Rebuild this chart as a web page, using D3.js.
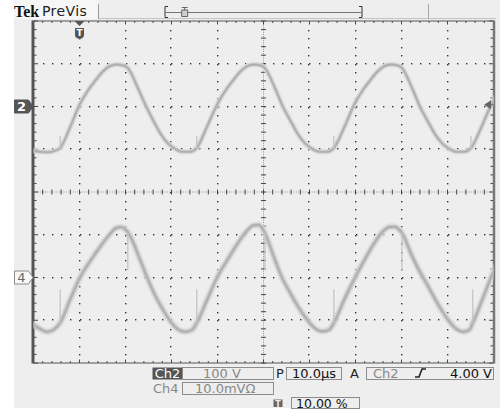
<!DOCTYPE html>
<html>
<head>
<meta charset="utf-8">
<script src="https://cdn.jsdelivr.net/npm/d3@7"></script>
<style>
  body { margin: 0; background: #fff; }
  svg { display: block; font-family: "DejaVu Sans", sans-serif; }
</style>
</head>
<body>
<svg id="scope" width="500" height="409"></svg>
<script>
// Ch2 trace: [time µs, volts]
const ch2Trace = [
  [-9.9, -104], [-8.5, -106], [-7.0, -107], [-5.5, -104], [-4.2, -97], [-2.1, -50],
  [0, 4], [2.0, 40], [3.4, 60], [5.1, 82], [6.5, 94], [8.0, 98], [9.5, 96], [10.5, 90],
  [12.7, 43], [14.5, 0], [16.4, -40], [17.7, -65], [19.2, -86], [20.8, -99], [22.5, -106],
  [24.0, -106], [25.5, -97], [27.6, -50],
  [29.9, 4], [31.9, 40], [33.3, 60], [35.0, 82], [36.4, 94], [37.9, 98], [39.4, 96], [40.3, 90],
  [42.5, 43], [44.2, 0], [46.2, -40], [47.5, -65], [49.0, -86], [50.6, -99], [52.3, -106],
  [53.8, -106], [55.3, -97], [57.5, -50],
  [59.7, 4], [61.7, 40], [63.1, 60], [64.8, 82], [66.2, 94], [67.7, 98], [69.2, 96], [70.1, 90],
  [72.3, 43], [74.0, 0], [76.0, -40], [77.3, -65], [78.8, -86], [80.4, -99], [82.1, -106],
  [83.6, -106], [85.1, -97], [87.3, -50], [89.5, 4], [91.5, 40]
];
// small switching spikes on Ch2: [time, from V, to V]
const ch2Spikes = [[-4.2, -97, -70], [25.5, -97, -70], [55.3, -97, -70], [85.1, -97, -70]];

// Ch4 trace: [time µs, value in channel units (10.0 per div)]
const ch4Trace = [
  [-9.9, -11.1], [-8.6, -12.0], [-7.1, -12.7], [-5.6, -12.2], [-4.2, -10.6], [-2.1, -5.3],
  [0.1, 0], [2.3, 3.8], [4.5, 7.2], [6.5, 10.0], [8.0, 11.6], [9.0, 11.8], [10.0, 11.2],
  [10.5, 10.6], [13.2, 4.1], [14.7, 0], [16.4, -4.1], [18.2, -7.6], [20.0, -10.6], [21.5, -12.2],
  [23.0, -12.7], [24.5, -12.2], [25.5, -10.6], [27.7, -5.3],
  [29.9, 0], [32.2, 4.2], [34.4, 8.0], [36.3, 10.8], [37.8, 12.2], [38.9, 12.3], [39.8, 11.4],
  [40.3, 10.4], [42.5, 4.1], [44.0, 0], [45.8, -3.6], [47.5, -6.8], [49.3, -9.6], [50.9, -11.6],
  [52.7, -12.6], [54.3, -12.2], [55.3, -10.6], [57.5, -5.3],
  [59.9, 0], [62.1, 4.4], [64.0, 7.9], [65.8, 10.6], [67.3, 11.8], [68.4, 11.9], [69.5, 11.2],
  [70.1, 10.4], [72.3, 5.0], [74.0, 1.3], [75.5, -1.5], [78.4, -7.1], [80.4, -10.3], [82.0, -12.1],
  [83.4, -12.7], [84.8, -12.2], [85.5, -10.6], [87.7, -4.8], [89.9, 1.1], [92.0, 5.0]
];
const ch4Spikes = [
  [-4.2, -10.6, -2.9], [10.5, 10.6, 1.8], [25.5, -10.6, -2.9], [40.3, 10.4, 1.8],
  [55.3, -10.6, -2.9], [70.1, 10.4, 1.8], [85.5, -10.6, -2.9]
];

// readout texts
const channelNames = ["Ch2", "Ch4"];
const channelScales = ["100 V", "10.0mVΩ"];
const timeScale = "10.0µs";
const triggerSource = "Ch2";
const triggerLevel = 4.00;
const triggerPercent = "10.00 %";

const svg = d3.select("#scope");

// screen geometry
const L = 33.5, R = 493.5, T = 21, B = 363;
const gx = d3.scaleLinear().domain([0, 10]).range([L, R]);    // divisions
const gy = d3.scaleLinear().domain([-4, 4]).range([B, T]);
const x = d3.scaleLinear().domain([-10, 90]).range([L, R]);   // µs, trigger at 10 %
const y2 = d3.scaleLinear().domain([-600, 200]).range([B, T]); // 100 V/div, offset +2 div
const y4 = d3.scaleLinear().domain([-20, 60]).range([B, T]);   // 10.0/div, offset -2 div

// panel
svg.append("rect").attr("x", 14).attr("y", 0).attr("width", 486).attr("height", 408).attr("fill", "#eeeeee");
svg.append("rect").attr("x", 14).attr("y", 0).attr("width", 84).attr("height", 19).attr("fill", "#f6f6f6");
svg.append("line").attr("x1", 98).attr("x2", 496).attr("y1", 18.5).attr("y2", 18.5).attr("stroke", "#c4c4c4");
svg.append("line").attr("x1", 98.5).attr("x2", 98.5).attr("y1", 4).attr("y2", 19).attr("stroke", "#9a9a9a");
svg.append("line").attr("x1", 428.5).attr("x2", 428.5).attr("y1", 4).attr("y2", 19).attr("stroke", "#a8a8a8");

svg.append("text").attr("x", 14).attr("y", 17).attr("font-family", "Liberation Serif")
  .attr("font-weight", "bold").attr("font-size", 16).attr("fill", "#111").text("Tek");
svg.append("text").attr("x", 42).attr("y", 16).attr("font-size", 14).attr("letter-spacing", 0.4)
  .attr("fill", "#222").text("PreVis");

// record view bracket
const rec = d3.scaleLinear().domain([-10, 90]).range([165, 362]);
const bar = svg.append("g").attr("stroke", "#777").attr("fill", "none");
bar.append("path").attr("d", `M${rec(-10) + 3},6.5H${rec(-10)}V17.5H${rec(-10) + 3}`).attr("stroke", "#333");
bar.append("path").attr("d", `M${rec(90) - 3},6.5H${rec(90)}V17.5H${rec(90) - 3}`).attr("stroke", "#333");
bar.append("line").attr("x1", rec(-10)).attr("x2", rec(90)).attr("y1", 12.5).attr("y2", 12.5);
bar.append("path").attr("d", `M${rec(0) - 3},7.5H${rec(0) + 3}M${rec(0)},7.5V10M${rec(0) - 3},10H${rec(0) + 3}V16.5H${rec(0) - 3}Z`)
  .attr("stroke", "#666").attr("fill", "#cfcfcf");

// graticule
const grid = svg.append("g");
const minorX = d3.range(0, 50.5).map(i => i / 5);
const minorY = d3.range(0, 40.5).map(i => -4 + i / 5);
d3.range(1, 10).filter(i => i !== 5).forEach(i => {
  grid.selectAll(null).data(minorY.slice(1, -1)).enter().append("rect")
    .attr("x", Math.round(gx(i)) - 1).attr("y", d => Math.round(gy(d)))
    .attr("width", 1.4).attr("height", 1.4).attr("fill", "#333");
});
d3.range(-3, 4).filter(k => k !== 0).forEach(k => {
  grid.selectAll(null).data(minorX.slice(1, -1)).enter().append("rect")
    .attr("x", d => Math.round(gx(d))).attr("y", Math.round(gy(k)) - 1)
    .attr("width", 1.4).attr("height", 1.4).attr("fill", "#333");
});
// centre lines: fine dots plus ticks
const fineX = d3.range(0, 200.5).map(i => i / 20);
const fineY = d3.range(0, 160.5).map(i => -4 + i / 20);
grid.selectAll(null).data(fineY).enter().append("rect")
  .attr("x", gx(5) - 0.5).attr("y", d => gy(d)).attr("width", 1).attr("height", 1).attr("fill", "#999");
grid.selectAll(null).data(fineX).enter().append("rect")
  .attr("x", d => gx(d)).attr("y", gy(0) - 0.5).attr("width", 1).attr("height", 1).attr("fill", "#999");
grid.selectAll(null).data(minorY).enter().append("line")
  .attr("x1", gx(5) - 2.5).attr("x2", gx(5) + 2.5).attr("y1", d => gy(d)).attr("y2", d => gy(d))
  .attr("stroke", "#444");
grid.selectAll(null).data(minorX).enter().append("line")
  .attr("y1", gy(0) - 2.5).attr("y2", gy(0) + 2.5).attr("x1", d => gx(d)).attr("x2", d => gx(d))
  .attr("stroke", "#444");
// border ticks
grid.selectAll(null).data(minorX).enter().append("line")
  .attr("x1", d => gx(d)).attr("x2", d => gx(d)).attr("y1", T).attr("y2", (d, i) => T + (i % 5 ? 2 : 3.5))
  .attr("stroke", "#444");
grid.selectAll(null).data(minorX).enter().append("line")
  .attr("x1", d => gx(d)).attr("x2", d => gx(d)).attr("y1", B).attr("y2", (d, i) => B - (i % 5 ? 2 : 3.5))
  .attr("stroke", "#444");
grid.selectAll(null).data(minorY).enter().append("line")
  .attr("y1", d => gy(d)).attr("y2", d => gy(d)).attr("x1", L).attr("x2", (d, i) => L + (i % 5 ? 3 : 4.5))
  .attr("stroke", "#444");
grid.selectAll(null).data(minorY).enter().append("line")
  .attr("y1", d => gy(d)).attr("y2", d => gy(d)).attr("x1", R).attr("x2", (d, i) => R - (i % 5 ? 3 : 4.5))
  .attr("stroke", "#444");
grid.append("line").attr("x1", L).attr("x2", R).attr("y1", T).attr("y2", T).attr("stroke", "#555");
grid.append("line").attr("x1", L).attr("x2", R).attr("y1", B).attr("y2", B).attr("stroke", "#555");
grid.append("line").attr("x1", L - 0.5).attr("x2", L - 0.5).attr("y1", T - 0.5).attr("y2", B + 0.5).attr("stroke", "#555").attr("stroke-width", 3);
grid.append("line").attr("x1", R + 0.5).attr("x2", R + 0.5).attr("y1", T - 0.5).attr("y2", B + 0.5).attr("stroke", "#777").attr("stroke-width", 2.5);

// traces
svg.append("clipPath").attr("id", "screen").append("rect")
  .attr("x", L).attr("y", T).attr("width", R - L).attr("height", B - T);
const traces = svg.append("g").attr("clip-path", "url(#screen)").attr("fill", "none")
  .attr("stroke-linejoin", "round").attr("stroke-linecap", "round");

function drawTrace(data, spikes, ys, fuzz) {
  const line = d3.line().x(d => x(d[0])).y(d => ys(d[1])).curve(d3.curveMonotoneX);
  const g = traces.append("g");
  g.append("path").attr("d", line(data)).attr("stroke", "#dadada").attr("stroke-width", fuzz).attr("opacity", 0.75);
  g.append("path").attr("d", line(data)).attr("stroke", "#c2c2c2").attr("stroke-width", fuzz * 0.55);
  g.append("path").attr("d", line(data)).attr("stroke", "#afafaf").attr("stroke-width", 1.6);
  g.selectAll(null).data(spikes).enter().append("line")
    .attr("x1", d => x(d[0])).attr("x2", d => x(d[0]))
    .attr("y1", d => ys(d[1])).attr("y2", d => ys(d[2]))
    .attr("stroke", "#c4c4c4").attr("stroke-width", 1.3);
}
drawTrace(ch2Trace, ch2Spikes, y2, 5.5);
drawTrace(ch4Trace, ch4Spikes, y4, 7);

// channel ground markers
function groundMarker(yPos, label, dark) {
  const g = svg.append("g");
  g.append("path")
    .attr("d", `M14.5,${yPos - 6.5}H28.5L33,${yPos}L28.5,${yPos + 6.5}H14.5Z`)
    .attr("fill", dark ? "#555" : "#f8f8f8").attr("stroke", dark ? "#555" : "#8a8a8a");
  g.append("text").attr("x", 21.5).attr("y", yPos + 4.5).attr("text-anchor", "middle")
    .attr("font-size", 13).attr("font-weight", dark ? "bold" : "normal")
    .attr("fill", dark ? "#fff" : "#666").text(label);
}
groundMarker(y2(0), "2", true);
groundMarker(y4(0), "4", false);

// trigger position marker
const tx = x(0);
svg.append("path").attr("d", `M${tx - 5},${T}H${tx + 5}L${tx},${T + 5}Z`).attr("fill", "#555");
svg.append("path").attr("d", `M${tx - 4.5},28H${tx + 4.5}V35Q${tx + 4.5},38 ${tx},39Q${tx - 4.5},38 ${tx - 4.5},35Z`).attr("fill", "#555");
svg.append("text").attr("x", tx).attr("y", 36).attr("text-anchor", "middle").attr("font-size", 9)
  .attr("font-weight", "bold").attr("fill", "#fff").text("T");

// trigger level marker
const ty = y2(triggerLevel);
svg.append("path").attr("d", `M484,${ty}L491,${ty - 4.5}V${ty + 4.5}Z`).attr("fill", "#666");
svg.append("line").attr("x1", 488).attr("x2", R).attr("y1", ty).attr("y2", ty).attr("stroke", "#666");

// readouts
const ro = svg.append("g").attr("font-size", 13);
function box(xp, yp, w, h) {
  ro.append("rect").attr("x", xp).attr("y", yp).attr("width", w).attr("height", h)
    .attr("fill", "none").attr("stroke", "#8c8c8c");
}
ro.append("rect").attr("x", 152.5).attr("y", 367.5).attr("width", 30).attr("height", 12).attr("fill", "#555");
ro.append("text").attr("x", 167.5).attr("y", 378).attr("text-anchor", "middle").attr("fill", "#fff").text(channelNames[0]);
box(182.5, 367.5, 91, 12);
ro.append("text").attr("x", 222).attr("y", 378).attr("text-anchor", "middle").attr("fill", "#888").text(channelScales[0]);
ro.append("text").attr("x", 276).attr("y", 378).attr("fill", "#222").text("P");
box(286.5, 367.5, 55, 12);
ro.append("text").attr("x", 314).attr("y", 378).attr("text-anchor", "middle").attr("fill", "#111").text(timeScale);
ro.append("text").attr("x", 350).attr("y", 378).attr("fill", "#222").text("A");
box(366.5, 367.5, 127, 12);
ro.append("text").attr("x", 373).attr("y", 378).attr("fill", "#888").text(triggerSource);
ro.append("path").attr("d", "M415,377H419L422,369H426").attr("fill", "none").attr("stroke", "#222").attr("stroke-width", 1.6);
ro.append("text").attr("x", 492).attr("y", 378).attr("text-anchor", "end").attr("fill", "#111")
  .text(triggerLevel.toFixed(2) + " V");

ro.append("text").attr("x", 153).attr("y", 393).attr("fill", "#888").text(channelNames[1]);
box(182.5, 382.5, 91, 12);
ro.append("text").attr("x", 195).attr("y", 393).attr("fill", "#888").text(channelScales[1]);

ro.append("path").attr("d", "M273.5,399.5H282.5V407H273.5Z").attr("fill", "#666");
ro.append("text").attr("x", 278).attr("y", 406.5).attr("text-anchor", "middle").attr("font-size", 8)
  .attr("font-weight", "bold").attr("fill", "#eee").text("T");
box(291.5, 397.5, 68, 11);
ro.append("text").attr("x", 296).attr("y", 407.5).attr("font-size", 12.5).attr("fill", "#111").text(triggerPercent);
</script>
</body>
</html>
